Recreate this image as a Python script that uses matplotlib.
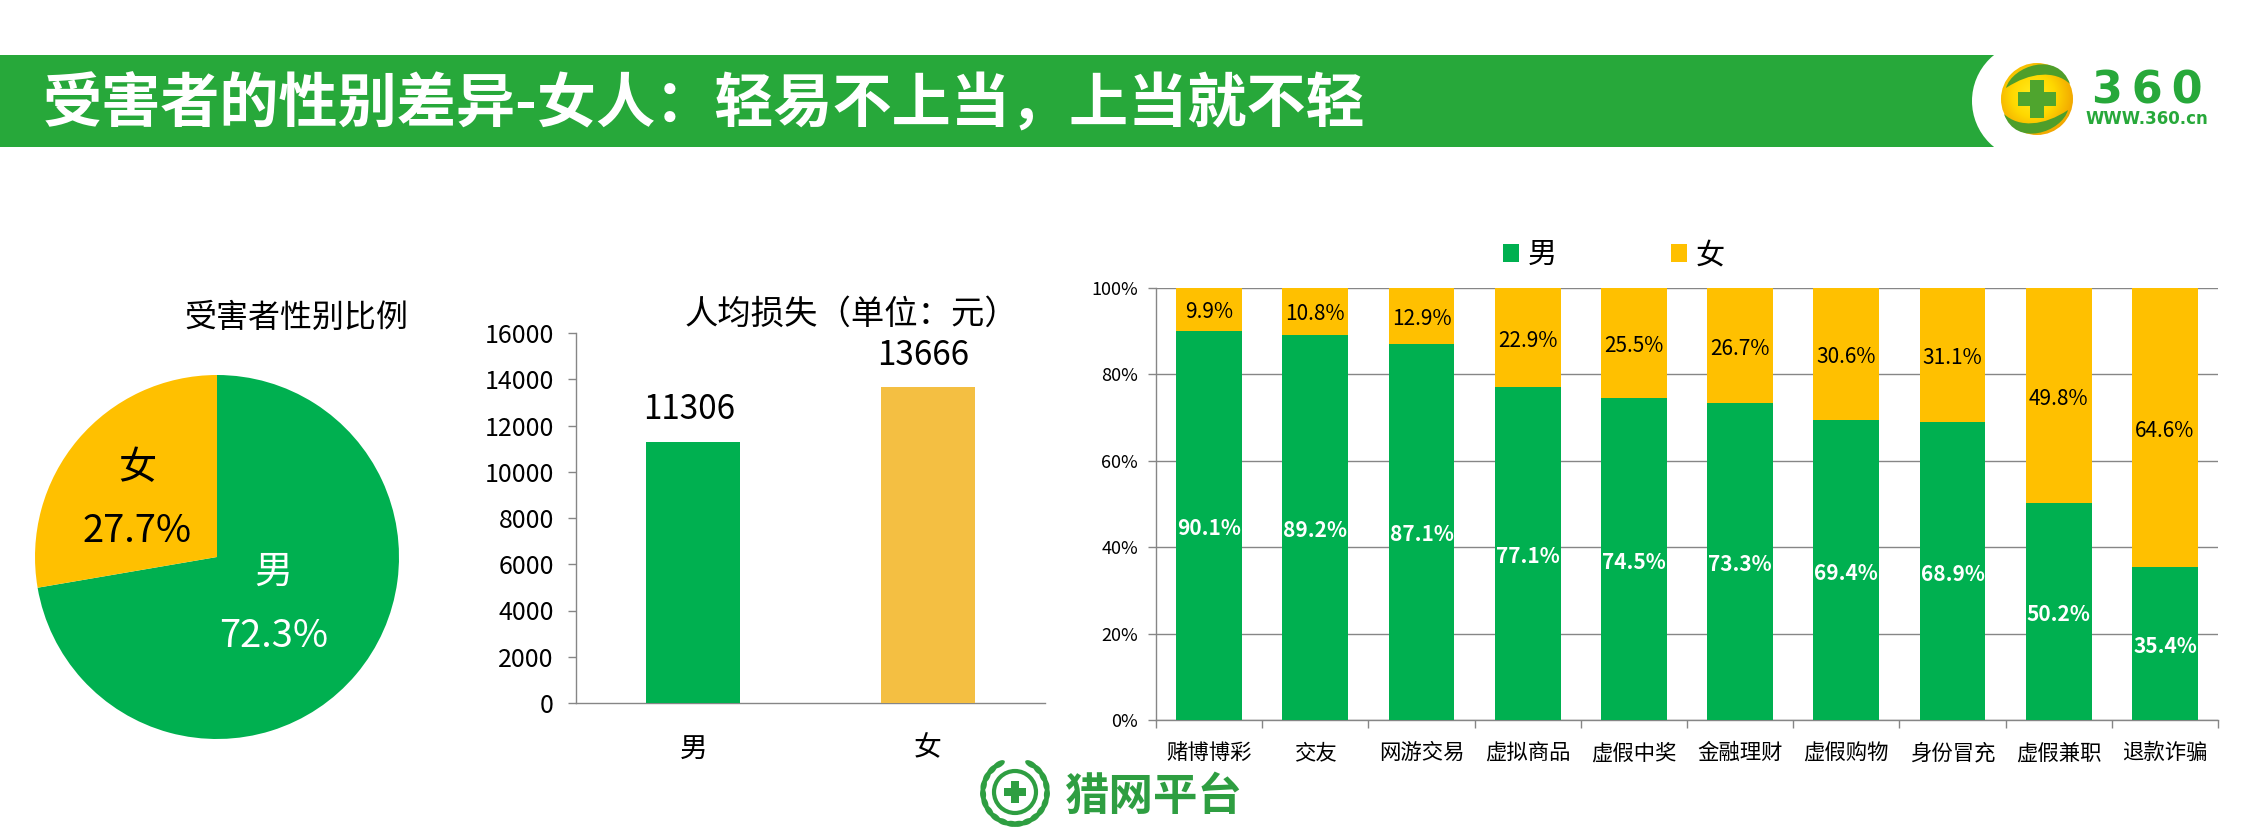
import numpy as np
import matplotlib
matplotlib.use('Agg')
import matplotlib.pyplot as plt
from matplotlib.patches import Circle, Ellipse, PathPatch, Rectangle
from matplotlib.path import Path

plt.rcParams['font.family'] = ['Noto Sans CJK SC', 'DejaVu Sans']

W, H = 2268, 832

titre = '受害者的性别差异-女人：轻易不上当，上当就不轻'

sexes = ['男', '女']
pie_values = [72.3, 27.7]
perte_values = [11306, 13666]

categories = ['赌博博彩', '交友', '网游交易', '虚拟商品', '虚假中奖',
              '金融理财', '虚假购物', '身份冒充', '虚假兼职', '退款诈骗']
hommes = [90.1, 89.2, 87.1, 77.1, 74.5, 73.3, 69.4, 68.9, 50.2, 35.4]
femmes = [9.9, 10.8, 12.9, 22.9, 25.5, 26.7, 30.6, 31.1, 49.8, 64.6]

VERT = '#00B050'
JAUNE = '#FFC000'
JAUNE2 = '#F4BF42'
GRIS = '#868686'
VERT_BANDE = '#27A83A'
VERT_LOGO = '#2E9E41'


# axes placés en pixels de l'image de référence
def axes_px(x0, y0, x1, y1):
    return fig.add_axes([x0 / W, 1 - y1 / H, (x1 - x0) / W, (y1 - y0) / H])


fig = plt.figure(figsize=(W / 100, H / 100), dpi=100, facecolor='white')

# fond : bandeau + logos
deco = fig.add_axes([0, 0, 1, 1])
deco.set_xlim(0, W)
deco.set_ylim(H, 0)
deco.axis('off')

deco.add_patch(Rectangle((0, 55), 1994, 92, fc=VERT_BANDE, ec='none'))
deco.add_patch(Circle((2031, 101), 59, fc='white', ec='none'))
deco.add_patch(Rectangle((1994, 50), 100, 100, fc='white', ec='none'))
deco.text(43, 106, titre, color='white', fontsize=42.6, fontweight='bold', va='center', ha='left')

# logo 360
yy, xx = np.mgrid[-1:1:200j, -1:1:200j]
grad = np.sqrt((xx + 0.1) ** 2 + (yy + 0.1) ** 2)
ball = deco.imshow(grad, extent=(2001, 2073, 135, 63), cmap=matplotlib.colors.LinearSegmentedColormap.from_list(
    'boule', ['#FFEE20', '#FFD800', '#F0A000']), aspect='auto', zorder=2, vmin=0, vmax=1.2)
ball.set_clip_path(Circle((2037, 99), 36, transform=deco.transData))
deco.set_xlim(0, W)
deco.set_ylim(H, 0)
haut = [(2006, 88), (2012, 66), (2058, 50), (2070, 84), (2055, 70), (2030, 72), (2006, 88)]
codes = [Path.MOVETO, Path.CURVE4, Path.CURVE4, Path.CURVE4, Path.CURVE4, Path.CURVE4, Path.CURVE4]
bas = [(2 * 2037 - x, 2 * 99 - y) for x, y in haut]
for pts in [haut, bas]:
    deco.add_patch(PathPatch(Path(pts, codes), fc='#4E9E2A', ec='none', zorder=3))
deco.add_patch(Rectangle((2030, 80), 14, 38, fc='#4FA52E', ec='none', zorder=3))
deco.add_patch(Rectangle((2018, 92), 38, 14, fc='#4FA52E', ec='none', zorder=3))
deco.text(2147, 91, '3\u20096\u20090', color=VERT_BANDE, fontsize=32, fontweight='bold', family='DejaVu Sans',
          ha='center', va='center')
deco.text(2147, 119, 'WWW.360.cn', color=VERT_BANDE, fontsize=12, fontweight='bold', family='DejaVu Sans',
          ha='center', va='center')

# logo du bas
deco.add_patch(Circle((1015, 792), 21, fc='white', ec=VERT_LOGO, lw=3))
deco.add_patch(Rectangle((1011, 781), 8, 22, fc=VERT_LOGO, ec='none'))
deco.add_patch(Rectangle((1004, 788), 22, 8, fc=VERT_LOGO, ec='none'))
for a in range(-60, 90, 16):
    for s in [-1, 1]:
        t = np.deg2rad(a)
        deco.add_patch(Ellipse((1015 + s * 32 * np.cos(t), 792 + 32 * np.sin(t)), 6, 13,
                               angle=s * a, fc=VERT_LOGO, ec='none'))
deco.text(1153, 797, '猎网平台', color=VERT_LOGO, fontsize=32, fontweight='bold', ha='center', va='center')

# camembert
R = 182
ax1 = axes_px(217 - R, 557 - R, 217 + R, 557 + R)
ax1.pie(pie_values, colors=[VERT, JAUNE], startangle=90, counterclock=False, radius=1)
ax1.set_xlim(-1, 1)
ax1.set_ylim(-1, 1)
ax1.patch.set_visible(False)
ax1.text(0.31, -0.085, sexes[0], color='white', fontsize=27.5, ha='center', va='center')
ax1.text(0.31, -0.435, '%.1f%%' % pie_values[0], color='white', fontsize=27.5, ha='center', va='center')
ax1.text(-0.44, 0.487, sexes[1], color='black', fontsize=27.5, ha='center', va='center')
ax1.text(-0.44, 0.14, '%.1f%%' % pie_values[1], color='black', fontsize=27.5, ha='center', va='center')
deco.text(296, 318, '受害者性别比例', color='black', fontsize=23, ha='center', va='center')

# perte moyenne
ax2 = axes_px(576, 333, 1045, 703)
ax2.bar(range(2), perte_values, width=0.4, color=[VERT, JAUNE2], zorder=3)
ax2.set_xlim(-0.5, 1.5)
ax2.set_ylim(0, 16000)
ax2.set_yticks(range(0, 16001, 2000))
ax2.set_xticks(range(2))
ax2.set_xticklabels(sexes, fontsize=20)
ax2.tick_params(axis='y', labelsize=18, length=6, width=1, color=GRIS, pad=10)
ax2.tick_params(axis='x', length=0, pad=22)
for s in ['top', 'right']:
    ax2.spines[s].set_visible(False)
for s in ['left', 'bottom']:
    ax2.spines[s].set_color(GRIS)
    ax2.spines[s].set_linewidth(1)
ax2.patch.set_visible(False)
for i, v in enumerate(perte_values):
    ax2.annotate(str(v), (i, v), xytext=(-3, 23), textcoords='offset points', fontsize=24,
                 ha='center', va='center')
deco.text(851, 314, '人均损失（单位：元）', color='black', fontsize=24, ha='center', va='center')

# barres empilées
ax3 = axes_px(1156, 288, 2218, 720)
x = np.arange(len(categories))
b1 = ax3.bar(x, hommes, width=0.62, color=VERT, zorder=3, label=sexes[0])
b2 = ax3.bar(x, femmes, width=0.62, bottom=hommes, color=JAUNE, zorder=3, label=sexes[1])
ax3.set_xlim(-0.5, len(categories) - 0.5)
ax3.set_ylim(0, 100)
ax3.set_yticks(range(0, 101, 20))
ax3.set_yticklabels(['%d%%' % v for v in range(0, 101, 20)])
ax3.yaxis.grid(True, color=GRIS, lw=1, zorder=0)
ax3.set_axisbelow(True)
ax3.set_xticks(x)
ax3.set_xticklabels(categories, fontsize=15.4)
ax3.set_xticks(np.arange(len(categories) + 1) - 0.5, minor=True)
ax3.tick_params(axis='x', which='major', length=0, pad=16)
ax3.tick_params(axis='x', which='minor', length=6, width=1, color=GRIS)
ax3.tick_params(axis='y', labelsize=13, length=6, width=1, color=GRIS, pad=7)
for s in ['top', 'right']:
    ax3.spines[s].set_visible(False)
for s in ['left', 'bottom']:
    ax3.spines[s].set_color(GRIS)
    ax3.spines[s].set_linewidth(1)
ax3.patch.set_visible(False)
for i in x:
    # Noto est centré un peu trop haut, on descend de 3 px
    ax3.annotate('%.1f%%' % hommes[i], (i, hommes[i] / 2), xytext=(0, -2.2), textcoords='offset points',
                 color='white', fontsize=15, fontweight='bold', ha='center', va='center', zorder=4)
    ax3.annotate('%.1f%%' % femmes[i], (i, hommes[i] + femmes[i] / 2), xytext=(0, -2.2), textcoords='offset points',
                 color='black', fontsize=15, ha='center', va='center', zorder=4)

fig.legend(handles=[b1, b2], loc='center left', bbox_to_anchor=(1503 / W, 1 - 255 / H), frameon=False,
           ncols=2, fontsize=21, handlelength=0.56, handleheight=0.56, handletextpad=0.3,
           columnspacing=3.9, borderpad=0, borderaxespad=0)

fig.savefig('out.png', dpi=100)
